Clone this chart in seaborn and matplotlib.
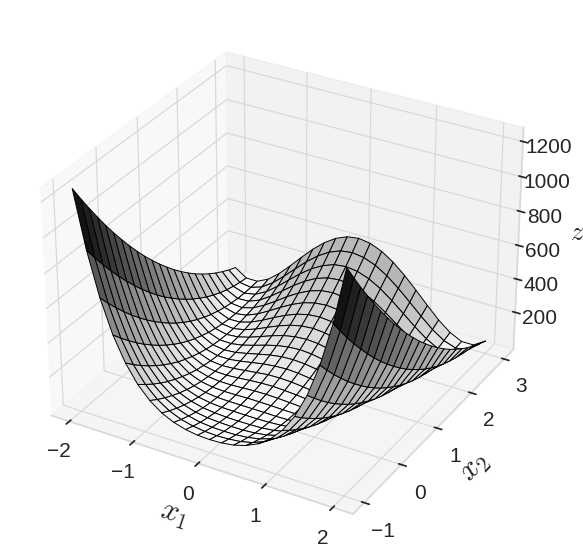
import numpy as np
import seaborn as sns
import matplotlib
matplotlib.use('Agg')
import matplotlib.pyplot as plt

x1_ticks = [-2, -1, 0, 1, 2]
x2_ticks = [-1, 0, 1, 2, 3]
z_ticks = [200, 400, 600, 800, 1000, 1200]
x1_range = (-2, 2)
x2_range = (-1, 3)

# surface heights, one row per x1 line, x2 going -1 to 3
z_rows = [
    [1254, 1165, 1079, 997, 917, 841, 769, 699, 633, 570, 511, 455, 402, 352, 306, 263, 223, 187, 154, 124, 98, 74, 55],
    [931, 854, 781, 711, 644, 581, 521, 464, 411, 360, 313, 270, 230, 193, 159, 129, 101, 78, 57, 40, 26, 16, 9],
    [680, 615, 553, 494, 439, 387, 338, 293, 251, 212, 176, 144, 115, 90, 68, 49, 33, 21, 12, 6, 4, 5, 9],
    [488, 433, 382, 333, 288, 247, 208, 173, 141, 112, 87, 65, 47, 31, 19, 11, 5, 3, 4, 9, 17, 28, 42],
    [346, 300, 257, 218, 182, 149, 120, 93, 71, 51, 35, 22, 12, 6, 3, 3, 7, 14, 24, 37, 54, 74, 98],
    [242, 204, 169, 137, 109, 84, 63, 44, 29, 18, 9, 4, 2, 4, 9, 17, 28, 43, 61, 82, 107, 135, 166],
    [169, 137, 109, 84, 62, 44, 29, 17, 9, 4, 2, 3, 8, 16, 28, 42, 60, 82, 106, 134, 166, 200, 238],
    [118, 92, 69, 50, 34, 21, 11, 5, 2, 2, 6, 13, 23, 36, 53, 73, 97, 124, 154, 187, 224, 264, 307],
    [85, 63, 45, 29, 17, 9, 3, 1, 2, 7, 15, 26, 40, 58, 79, 103, 131, 162, 196, 234, 275, 319, 366],
    [65, 46, 30, 18, 9, 3, 1, 2, 6, 14, 24, 39, 56, 77, 101, 128, 159, 193, 230, 271, 314, 362, 412],
    [54, 37, 23, 13, 5, 2, 1, 4, 10, 19, 32, 47, 67, 89, 115, 144, 177, 212, 252, 294, 340, 389, 441],
    [51, 34, 21, 11, 4, 1, 1, 4, 11, 21, 34, 51, 70, 94, 120, 150, 183, 219, 259, 302, 348, 398, 451],
    [54, 37, 23, 12, 5, 1, 1, 3, 9, 18, 31, 47, 66, 89, 115, 144, 176, 212, 251, 293, 339, 388, 440],
    [64, 45, 30, 17, 8, 3, 0, 1, 5, 13, 24, 38, 55, 76, 100, 127, 158, 192, 229, 270, 314, 361, 411],
    [84, 62, 44, 28, 16, 8, 2, 0, 1, 6, 14, 25, 39, 57, 78, 102, 130, 161, 195, 233, 274, 318, 365],
    [117, 91, 68, 48, 32, 19, 10, 3, 0, 1, 4, 11, 21, 35, 52, 72, 95, 122, 152, 185, 222, 262, 305],
    [167, 135, 107, 82, 60, 42, 27, 15, 7, 2, 0, 2, 6, 14, 26, 41, 59, 80, 105, 133, 164, 198, 236],
    [240, 202, 167, 135, 107, 82, 60, 42, 27, 15, 7, 2, 0, 2, 6, 14, 26, 41, 59, 80, 105, 133, 164],
    [343, 297, 255, 215, 179, 146, 117, 91, 68, 48, 32, 19, 10, 3, 0, 1, 4, 11, 21, 35, 52, 72, 95],
    [485, 431, 379, 330, 285, 244, 205, 170, 138, 110, 84, 62, 44, 28, 16, 8, 2, 0, 1, 6, 14, 25, 39],
    [676, 611, 549, 491, 435, 384, 335, 289, 247, 208, 173, 141, 112, 86, 64, 45, 30, 17, 8, 3, 0, 1, 5],
    [927, 851, 777, 707, 641, 577, 517, 460, 407, 357, 310, 266, 226, 189, 155, 125, 98, 74, 54, 37, 23, 12, 5],
    [1250, 1161, 1075, 993, 913, 837, 765, 695, 629, 566, 507, 450, 398, 348, 302, 259, 219, 183, 150, 120, 94, 70, 50],
]

sns.set_theme(style='whitegrid', rc={'grid.color': '.85', 'grid.linewidth': 0.9, 'axes.edgecolor': '.85'})
plt.rcParams['font.family'] = ['Liberation Sans', 'DejaVu Sans']
plt.rcParams['mathtext.fontset'] = 'cm'

z = np.array(z_rows, dtype=float)
x1 = np.linspace(x1_range[0], x1_range[1], z.shape[0])
x2 = np.linspace(x2_range[0], x2_range[1], z.shape[1])
X1, X2 = np.meshgrid(x1, x2, indexing='ij')

# gray level of each cell from how steep it is, slopes rising towards x2 come out darker
dz1 = (z[1:, :-1] - z[:-1, :-1] + z[1:, 1:] - z[:-1, 1:]) / 2 / (x1[1] - x1[0])
dz2 = (z[:-1, 1:] - z[:-1, :-1] + z[1:, 1:] - z[1:, :-1]) / 2 / (x2[1] - x2[0])
gray = np.clip(1 - (np.hypot(dz1, dz2) / 1900)**1.4 - 0.0007 * np.clip(dz2, 0, None), 0.03, 1)
colors = np.dstack([gray, gray, gray, np.ones_like(gray)])

fig = plt.figure(figsize=(5.83, 5.60), dpi=100)
ax = fig.add_axes([-0.001, 0.0215, 0.96, 0.96], projection='3d')
ax.plot_surface(X1, X2, z, facecolors=colors, rstride=1, cstride=1, shade=False,
                edgecolor='black', linewidth=0.7)

ax.set_xticks(x1_ticks)
ax.set_yticks(x2_ticks)
ax.set_zticks(z_ticks)
ax.tick_params(labelsize=15, colors='.15')
ax.tick_params(axis='x', pad=3)
ax.tick_params(axis='y', pad=4)
ax.tick_params(axis='z', pad=3)
ax.set_xlabel('$x_1$', fontsize=22, labelpad=5)
ax.set_ylabel('$x_2$', fontsize=22, labelpad=4)
ax.set_zlabel('$z$', fontsize=19, labelpad=5)

fig.savefig('out.png', dpi=100)
